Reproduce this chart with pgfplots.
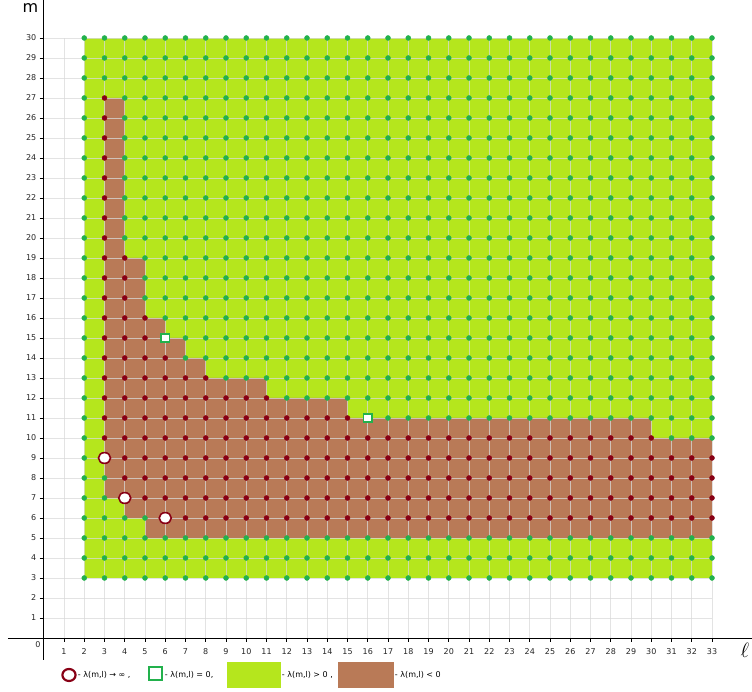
\documentclass[border=0pt]{standalone}
\usepackage{fontspec}
\setmainfont{DejaVu Sans}
\usepackage{pgfplots}
\pgfplotsset{compat=1.18}
\definecolor{plime}{HTML}{B5E61D}
\definecolor{pbrown}{HTML}{B97A57}
\definecolor{pgreen}{HTML}{22B14C}
\definecolor{pdred}{HTML}{880015}
\definecolor{gridc}{HTML}{D9D9D9}
\begin{document}
\begin{tikzpicture}
\path[use as bounding box] (-43.75pt,-54pt) rectangle (708.25pt,638pt);
\begin{axis}[
  at={(0pt,0pt)}, anchor=origin,
  x=20.25pt, y=20pt,
  xmin=-1.77, xmax=34.97, ymin=-1.1, ymax=31.9,
  axis x line=middle, axis y line=middle,
  axis line style={-, black, line width=0.8pt},
  xtick={1,...,33}, ytick={1,...,30},
  tick align=outside, major tick length=4pt,
  tick style={black, line width=0.6pt},
  ticklabel style={font=\fontsize{8}{9}\selectfont, text=black!85},
  xticklabel style={yshift=-3pt},
  /pgf/number format/assume math mode=true,
  clip=false,
  legend style={at={(axis cs:0.802,-1.85)}, anchor=west, draw=none, fill=none,
    inner sep=0pt, outer sep=0pt, column sep=0pt, row sep=0pt,
    font=\fontsize{8}{9}\selectfont, nodes={inner sep=0pt, outer sep=0pt}},
  legend columns=4, legend cell align=left,
]
\addlegendimage{legend image code/.code={\path[draw=none, fill=none] (0pt,-13pt) rectangle (18pt,13pt);
  \draw[pdred, line width=2.2pt, fill=white] (9pt,0pt) ellipse [x radius=6.6pt, y radius=6pt];}}
\addlegendimage{legend image code/.code={\path[draw=none, fill=none] (0pt,-13pt) rectangle (17pt,13pt);
  \draw[pgreen, line width=2pt, fill=white] (1pt,-5pt) rectangle (14pt,8pt);}}
\addlegendimage{legend image code/.code={\fill[plime, draw=none] (0pt,-13pt) rectangle (54pt,13pt);}}
\addlegendimage{legend image code/.code={\fill[pbrown, draw=none] (0pt,-13pt) rectangle (56pt,13pt);}}
\legend{\makebox[70pt][l]{- λ(m,l) → ∞ ,},\makebox[62pt][l]{- λ(m,l) = 0,},\makebox[57pt][l]{\hspace{1pt}- λ(m,l) > 0 ,},\makebox[56pt][l]{\hspace{1pt}- λ(m,l) < 0}}

% regions
\addplot[fill=plime, draw=none] coordinates {(2,3) (33,3) (33,30) (2,30)} -- cycle;
\addplot[fill=pbrown, draw=none] coordinates {(3,7) (3,27) (4,27) (4,19) (5,19) (5,16) (6,16) (6,15) (7,15) (7,14) (8,14) (8,13) (11,13) (11,12) (15,12) (15,11) (30,11) (30,10) (33,10) (33,5) (5,5) (5,6) (4,6) (4,7)} -- cycle;

% grid
\pgfplotsinvokeforeach{1,...,33}{\draw[gridc, opacity=0.75, line width=0.8pt] (axis cs:#1,0) -- (axis cs:#1,30);}
\pgfplotsinvokeforeach{1,...,30}{\draw[gridc, opacity=0.75, line width=0.8pt] (axis cs:0,#1) -- (axis cs:33,#1);}

% green points (lambda > 0)
\addplot[only marks, mark=*, mark size=2.5pt, color=pgreen] coordinates {
(2,30) (3,30) (4,30) (5,30) (6,30) (7,30) (8,30) (9,30) (10,30) (11,30) (12,30) (13,30) (14,30) (15,30) (16,30) (17,30) (18,30) (19,30) (20,30) (21,30) (22,30) (23,30) (24,30) (25,30) (26,30) (27,30) (28,30) (29,30) (30,30) (31,30) (32,30) (33,30)
(2,29) (3,29) (4,29) (5,29) (6,29) (7,29) (8,29) (9,29) (10,29) (11,29) (12,29) (13,29) (14,29) (15,29) (16,29) (17,29) (18,29) (19,29) (20,29) (21,29) (22,29) (23,29) (24,29) (25,29) (26,29) (27,29) (28,29) (29,29) (30,29) (31,29) (32,29) (33,29)
(2,28) (3,28) (4,28) (5,28) (6,28) (7,28) (8,28) (9,28) (10,28) (11,28) (12,28) (13,28) (14,28) (15,28) (16,28) (17,28) (18,28) (19,28) (20,28) (21,28) (22,28) (23,28) (24,28) (25,28) (26,28) (27,28) (28,28) (29,28) (30,28) (31,28) (32,28) (33,28)
(2,27) (4,27) (5,27) (6,27) (7,27) (8,27) (9,27) (10,27) (11,27) (12,27) (13,27) (14,27) (15,27) (16,27) (17,27) (18,27) (19,27) (20,27) (21,27) (22,27) (23,27) (24,27) (25,27) (26,27) (27,27) (28,27) (29,27) (30,27) (31,27) (32,27) (33,27)
(2,26) (4,26) (5,26) (6,26) (7,26) (8,26) (9,26) (10,26) (11,26) (12,26) (13,26) (14,26) (15,26) (16,26) (17,26) (18,26) (19,26) (20,26) (21,26) (22,26) (23,26) (24,26) (25,26) (26,26) (27,26) (28,26) (29,26) (30,26) (31,26) (32,26) (33,26)
(2,25) (4,25) (5,25) (6,25) (7,25) (8,25) (9,25) (10,25) (11,25) (12,25) (13,25) (14,25) (15,25) (16,25) (17,25) (18,25) (19,25) (20,25) (21,25) (22,25) (23,25) (24,25) (25,25) (26,25) (27,25) (28,25) (29,25) (30,25) (31,25) (32,25) (33,25)
(2,24) (4,24) (5,24) (6,24) (7,24) (8,24) (9,24) (10,24) (11,24) (12,24) (13,24) (14,24) (15,24) (16,24) (17,24) (18,24) (19,24) (20,24) (21,24) (22,24) (23,24) (24,24) (25,24) (26,24) (27,24) (28,24) (29,24) (30,24) (31,24) (32,24) (33,24)
(2,23) (4,23) (5,23) (6,23) (7,23) (8,23) (9,23) (10,23) (11,23) (12,23) (13,23) (14,23) (15,23) (16,23) (17,23) (18,23) (19,23) (20,23) (21,23) (22,23) (23,23) (24,23) (25,23) (26,23) (27,23) (28,23) (29,23) (30,23) (31,23) (32,23) (33,23)
(2,22) (4,22) (5,22) (6,22) (7,22) (8,22) (9,22) (10,22) (11,22) (12,22) (13,22) (14,22) (15,22) (16,22) (17,22) (18,22) (19,22) (20,22) (21,22) (22,22) (23,22) (24,22) (25,22) (26,22) (27,22) (28,22) (29,22) (30,22) (31,22) (32,22) (33,22)
(2,21) (4,21) (5,21) (6,21) (7,21) (8,21) (9,21) (10,21) (11,21) (12,21) (13,21) (14,21) (15,21) (16,21) (17,21) (18,21) (19,21) (20,21) (21,21) (22,21) (23,21) (24,21) (25,21) (26,21) (27,21) (28,21) (29,21) (30,21) (31,21) (32,21) (33,21)
(2,20) (4,20) (5,20) (6,20) (7,20) (8,20) (9,20) (10,20) (11,20) (12,20) (13,20) (14,20) (15,20) (16,20) (17,20) (18,20) (19,20) (20,20) (21,20) (22,20) (23,20) (24,20) (25,20) (26,20) (27,20) (28,20) (29,20) (30,20) (31,20) (32,20) (33,20)
(2,19) (5,19) (6,19) (7,19) (8,19) (9,19) (10,19) (11,19) (12,19) (13,19) (14,19) (15,19) (16,19) (17,19) (18,19) (19,19) (20,19) (21,19) (22,19) (23,19) (24,19) (25,19) (26,19) (27,19) (28,19) (29,19) (30,19) (31,19) (32,19) (33,19)
(2,18) (5,18) (6,18) (7,18) (8,18) (9,18) (10,18) (11,18) (12,18) (13,18) (14,18) (15,18) (16,18) (17,18) (18,18) (19,18) (20,18) (21,18) (22,18) (23,18) (24,18) (25,18) (26,18) (27,18) (28,18) (29,18) (30,18) (31,18) (32,18) (33,18)
(2,17) (5,17) (6,17) (7,17) (8,17) (9,17) (10,17) (11,17) (12,17) (13,17) (14,17) (15,17) (16,17) (17,17) (18,17) (19,17) (20,17) (21,17) (22,17) (23,17) (24,17) (25,17) (26,17) (27,17) (28,17) (29,17) (30,17) (31,17) (32,17) (33,17)
(2,16) (6,16) (7,16) (8,16) (9,16) (10,16) (11,16) (12,16) (13,16) (14,16) (15,16) (16,16) (17,16) (18,16) (19,16) (20,16) (21,16) (22,16) (23,16) (24,16) (25,16) (26,16) (27,16) (28,16) (29,16) (30,16) (31,16) (32,16) (33,16)
(2,15) (7,15) (8,15) (9,15) (10,15) (11,15) (12,15) (13,15) (14,15) (15,15) (16,15) (17,15) (18,15) (19,15) (20,15) (21,15) (22,15) (23,15) (24,15) (25,15) (26,15) (27,15) (28,15) (29,15) (30,15) (31,15) (32,15) (33,15)
(2,14) (7,14) (8,14) (9,14) (10,14) (11,14) (12,14) (13,14) (14,14) (15,14) (16,14) (17,14) (18,14) (19,14) (20,14) (21,14) (22,14) (23,14) (24,14) (25,14) (26,14) (27,14) (28,14) (29,14) (30,14) (31,14) (32,14) (33,14)
(2,13) (9,13) (10,13) (11,13) (12,13) (13,13) (14,13) (15,13) (16,13) (17,13) (18,13) (19,13) (20,13) (21,13) (22,13) (23,13) (24,13) (25,13) (26,13) (27,13) (28,13) (29,13) (30,13) (31,13) (32,13) (33,13)
(2,12) (12,12) (13,12) (14,12) (15,12) (16,12) (17,12) (18,12) (19,12) (20,12) (21,12) (22,12) (23,12) (24,12) (25,12) (26,12) (27,12) (28,12) (29,12) (30,12) (31,12) (32,12) (33,12)
(2,11) (17,11) (18,11) (19,11) (20,11) (21,11) (22,11) (23,11) (24,11) (25,11) (26,11) (27,11) (28,11) (29,11) (30,11) (31,11) (32,11) (33,11)
(2,10) (31,10) (32,10) (33,10)
(2,9)
(2,8) (3,8)
(2,7) (3,7)
(2,6) (3,6) (4,6) (5,6)
(2,5) (3,5) (4,5) (5,5) (6,5) (7,5) (8,5) (9,5) (10,5) (11,5) (12,5) (13,5) (14,5) (15,5) (16,5) (17,5) (18,5) (19,5) (20,5) (21,5) (22,5) (23,5) (24,5) (25,5) (26,5) (27,5) (28,5) (29,5) (30,5) (31,5) (32,5) (33,5)
(2,4) (3,4) (4,4) (5,4) (6,4) (7,4) (8,4) (9,4) (10,4) (11,4) (12,4) (13,4) (14,4) (15,4) (16,4) (17,4) (18,4) (19,4) (20,4) (21,4) (22,4) (23,4) (24,4) (25,4) (26,4) (27,4) (28,4) (29,4) (30,4) (31,4) (32,4) (33,4)
(2,3) (3,3) (4,3) (5,3) (6,3) (7,3) (8,3) (9,3) (10,3) (11,3) (12,3) (13,3) (14,3) (15,3) (16,3) (17,3) (18,3) (19,3) (20,3) (21,3) (22,3) (23,3) (24,3) (25,3) (26,3) (27,3) (28,3) (29,3) (30,3) (31,3) (32,3) (33,3)
};

% dark red points (lambda < 0)
\addplot[only marks, mark=*, mark size=2.5pt, color=pdred] coordinates {
(3,27) (3,26) (3,25) (3,24) (3,23) (3,22) (3,21) (3,20)
(3,19) (4,19) (3,18) (4,18) (3,17) (4,17)
(3,16) (4,16) (5,16)
(3,15) (4,15) (5,15)
(3,14) (4,14) (5,14) (6,14)
(3,13) (4,13) (5,13) (6,13) (7,13) (8,13)
(3,12) (4,12) (5,12) (6,12) (7,12) (8,12) (9,12) (10,12) (11,12)
(3,11) (4,11) (5,11) (6,11) (7,11) (8,11) (9,11) (10,11) (11,11) (12,11) (13,11) (14,11) (15,11)
(3,10) (4,10) (5,10) (6,10) (7,10) (8,10) (9,10) (10,10) (11,10) (12,10) (13,10) (14,10) (15,10) (16,10) (17,10) (18,10) (19,10) (20,10) (21,10) (22,10) (23,10) (24,10) (25,10) (26,10) (27,10) (28,10) (29,10) (30,10)
(4,9) (5,9) (6,9) (7,9) (8,9) (9,9) (10,9) (11,9) (12,9) (13,9) (14,9) (15,9) (16,9) (17,9) (18,9) (19,9) (20,9) (21,9) (22,9) (23,9) (24,9) (25,9) (26,9) (27,9) (28,9) (29,9) (30,9) (31,9) (32,9) (33,9)
(4,8) (5,8) (6,8) (7,8) (8,8) (9,8) (10,8) (11,8) (12,8) (13,8) (14,8) (15,8) (16,8) (17,8) (18,8) (19,8) (20,8) (21,8) (22,8) (23,8) (24,8) (25,8) (26,8) (27,8) (28,8) (29,8) (30,8) (31,8) (32,8) (33,8)
(5,7) (6,7) (7,7) (8,7) (9,7) (10,7) (11,7) (12,7) (13,7) (14,7) (15,7) (16,7) (17,7) (18,7) (19,7) (20,7) (21,7) (22,7) (23,7) (24,7) (25,7) (26,7) (27,7) (28,7) (29,7) (30,7) (31,7) (32,7) (33,7)
(7,6) (8,6) (9,6) (10,6) (11,6) (12,6) (13,6) (14,6) (15,6) (16,6) (17,6) (18,6) (19,6) (20,6) (21,6) (22,6) (23,6) (24,6) (25,6) (26,6) (27,6) (28,6) (29,6) (30,6) (31,6) (32,6) (33,6)
};

% lambda -> infinity
\addplot[only marks, mark=*, mark size=5.4pt, mark options={draw=pdred, fill=white, line width=1.6pt, xscale=1.12}] coordinates {(3,9) (4,7) (6,6)};
% lambda = 0
\addplot[only marks, mark=square*, mark size=4.3pt, mark options={draw=pgreen, fill=white, line width=1.8pt}] coordinates {(6,15) (16,11)};

\node[font=\fontsize{8}{9}\selectfont, text=black!85] at (axis cs:-0.284,-0.35) {0};
\node[font=\fontsize{16}{16}\selectfont] at (axis cs:-0.654,31.5) {m};
\node[font=\fontsize{20}{20}\selectfont] at (axis cs:34.62,-0.62) {$\ell$};
\end{axis}
\end{tikzpicture}
\end{document}
